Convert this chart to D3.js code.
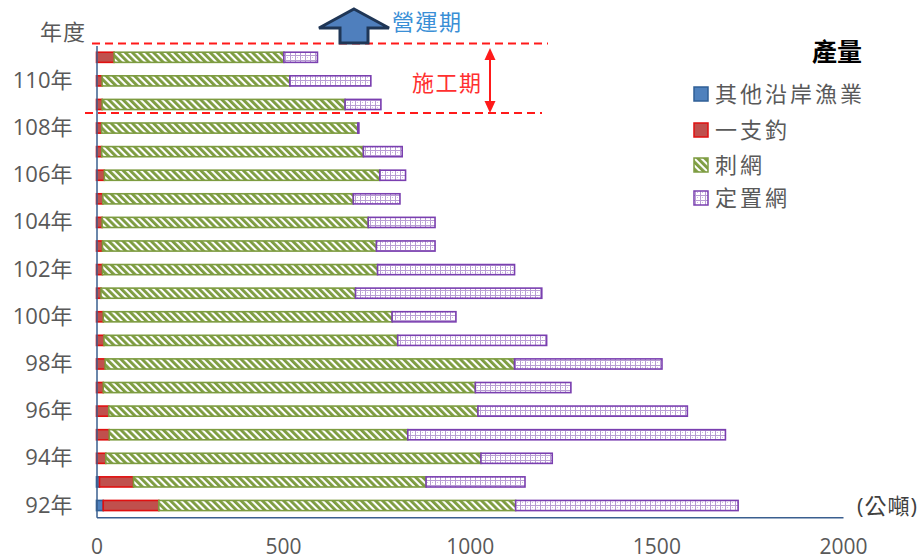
<!DOCTYPE html>
<html>
<head>
<meta charset="utf-8">
<script src="https://cdn.jsdelivr.net/npm/d3@7"></script>
<style>
  html, body { margin: 0; padding: 0; background: #fff; }
  svg { display: block; }
  text { font-family: "Open Sans", "Noto Sans CJK TC", sans-serif; }
</style>
</head>
<body>
<svg id="chart" width="924" height="560"></svg>
<script>
// ---- data ----
const years = [92,93,94,95,96,97,98,99,100,101,102,103,104,105,106,107,108,109,110,111];
const seriesNames = ["其他沿岸漁業", "一支釣", "刺網", "定置網"];
const otherCoastal = [18, 8, 0, 0, 0, 0, 0, 0, 0, 0, 0, 0, 0, 0, 0, 0, 0, 0, 0, 0];
const handLine     = [149, 91, 25, 34, 33, 18, 23, 20, 18, 12, 16, 16, 15, 17, 21, 14, 14, 15, 15, 47];
const gillNet      = [956, 784, 1005, 800, 989, 997, 1097, 787, 774, 682, 737, 734, 713, 671, 738, 701, 686, 651, 503, 455];
const setNet       = [596, 265, 191, 851, 561, 256, 395, 399, 171, 499, 367, 157, 179, 125, 69, 104, 3, 96, 217, 90];
const xTicks = [0, 500, 1000, 1500, 2000];
const yTickYears = years.filter(y => y % 2 === 0);
const yLabel = y => y + "年";

const rows = years.map((y, i) => ({
  year: y,
  "其他沿岸漁業": otherCoastal[i],
  "一支釣": handLine[i],
  "刺網": gillNet[i],
  "定置網": setNet[i]
}));

const svg = d3.select("#chart");
const defs = svg.append("defs");

// green wide downward diagonal pattern
const pg = defs.append("pattern").attr("id", "pGreen")
  .attr("patternUnits", "userSpaceOnUse").attr("width", 5).attr("height", 5)
  .attr("patternTransform", "rotate(-45)");
pg.append("rect").attr("width", 5).attr("height", 5).attr("fill", "#ffffff");
pg.append("rect").attr("width", 2.9).attr("height", 5).attr("fill", "#7d9c40");

// purple dotted grid pattern
const pp = defs.append("pattern").attr("id", "pPurple")
  .attr("patternUnits", "userSpaceOnUse").attr("width", 5).attr("height", 5);
pp.append("rect").attr("width", 5).attr("height", 5).attr("fill", "#ffffff");
pp.append("rect").attr("width", 5).attr("height", 1).attr("fill", "#b89dd3");
pp.append("rect").attr("width", 1).attr("height", 5).attr("fill", "#b89dd3");
pp.append("rect").attr("x", 2).attr("y", 2).attr("width", 1).attr("height", 1).attr("fill", "#cdb8e0");

const styles = {
  "其他沿岸漁業": { fill: "#4f81bd", stroke: "#2f5f96", legendFill: "#4f81bd" },
  "一支釣":       { fill: "#c0504d", stroke: "#e01010", legendFill: "#c0504d" },
  "刺網":         { fill: "url(#pGreen)", stroke: "#7d9c40", legendFill: "url(#pGreen)" },
  "定置網":       { fill: "url(#pPurple)", stroke: "#7a3fb0", legendFill: "url(#pPurple)" }
};

// ---- scales ----
const x = d3.scaleLinear().domain([0, 2000]).range([96.5, 843]);
const y = d3.scaleBand().domain(years).range([517.3, 45.5])
  .paddingInner(0.57).paddingOuter(0.285);

const stack = d3.stack().keys(seriesNames);
const stacked = stack(rows);

// ---- bars ----
const g = svg.append("g");
stacked.forEach(layer => {
  const st = styles[layer.key];
  g.append("g").selectAll("rect").data(layer.filter(d => d[1] - d[0] > 0)).join("rect")
    .attr("x", d => x(d[0]))
    .attr("y", d => y(d.data.year))
    .attr("width", d => Math.max(0.5, x(d[1]) - x(d[0])))
    .attr("height", y.bandwidth())
    .attr("fill", st.fill)
    .attr("stroke", st.stroke)
    .attr("stroke-width", 1.6);
});

// ---- axes ----
const yAxis = d3.axisLeft(y).tickValues(yTickYears).tickFormat(yLabel).tickSize(0).tickPadding(24);
const gy = svg.append("g").attr("transform", "translate(96.5,0)").call(yAxis);
gy.select(".domain").attr("stroke", "#3a5f8f").attr("stroke-width", 1.5);
gy.selectAll("text").attr("font-size", 22).attr("fill", "#595959");

const xAxis = d3.axisBottom(x).tickValues(xTicks).tickFormat(d3.format("d")).tickSize(0).tickPadding(22);
const gx = svg.append("g").attr("transform", "translate(0,517.3)").call(xAxis);
gx.select(".domain").attr("stroke", "#3a5f8f").attr("stroke-width", 1.5);
gx.selectAll("text").attr("font-size", 21).attr("fill", "#595959");

// axis titles
svg.append("text").attr("x", 40).attr("y", 40).attr("font-size", 22).attr("fill", "#595959")
  .attr("letter-spacing", 1).text("年度");
svg.append("text").attr("x", 857).attr("y", 514).attr("font-size", 22).attr("fill", "#404040")
  .attr("letter-spacing", 1).text("(公噸)");

// ---- legend ----
svg.append("text").attr("x", 812).attr("y", 61).attr("font-size", 25).attr("font-weight", "bold")
  .attr("fill", "#000").text("產量");
const legendY = [94, 130, 165, 198];
seriesNames.forEach((k, i) => {
  const st = styles[k];
  svg.append("rect").attr("x", 694).attr("y", legendY[i] - 7).attr("width", 14).attr("height", 14)
    .attr("fill", st.legendFill).attr("stroke", st.stroke).attr("stroke-width", 1.5);
  svg.append("text").attr("x", 715).attr("y", legendY[i]).attr("dy", "0.36em")
    .attr("font-size", 22).attr("letter-spacing", 3).attr("fill", "#595959").text(k);
});

// ---- annotations ----
const ann = svg.append("g");
ann.append("line").attr("x1", 92).attr("x2", 548).attr("y1", 43.5).attr("y2", 43.5)
  .attr("stroke", "#ff1a1a").attr("stroke-width", 2).attr("stroke-dasharray", "8,5");
ann.append("line").attr("x1", 85).attr("x2", 542).attr("y1", 113).attr("y2", 113)
  .attr("stroke", "#ff1a1a").attr("stroke-width", 2).attr("stroke-dasharray", "8,5");

// block arrow (營運期)
ann.append("path")
  .attr("d", "M354,9 L389,28 L368,28 L368,43 L340,43 L340,28 L319,28 Z")
  .attr("fill", "#4f7fbd").attr("stroke", "#1f3656").attr("stroke-width", 3).attr("stroke-linejoin", "miter");
ann.append("text").attr("x", 392).attr("y", 30).attr("font-size", 22).attr("letter-spacing", 1.5)
  .attr("fill", "#3a8fd6").text("營運期");

// double arrow (施工期)
ann.append("line").attr("x1", 490).attr("x2", 490).attr("y1", 58).attr("y2", 104)
  .attr("stroke", "#ff1a1a").attr("stroke-width", 2);
ann.append("path").attr("d", "M490,48 L495.5,60 L484.5,60 Z").attr("fill", "#ff1a1a");
ann.append("path").attr("d", "M490,113 L495.5,101 L484.5,101 Z").attr("fill", "#ff1a1a");
ann.append("text").attr("x", 412).attr("y", 91).attr("font-size", 22).attr("letter-spacing", 1.5)
  .attr("fill", "#ff3030").text("施工期");
</script>
</body>
</html>
